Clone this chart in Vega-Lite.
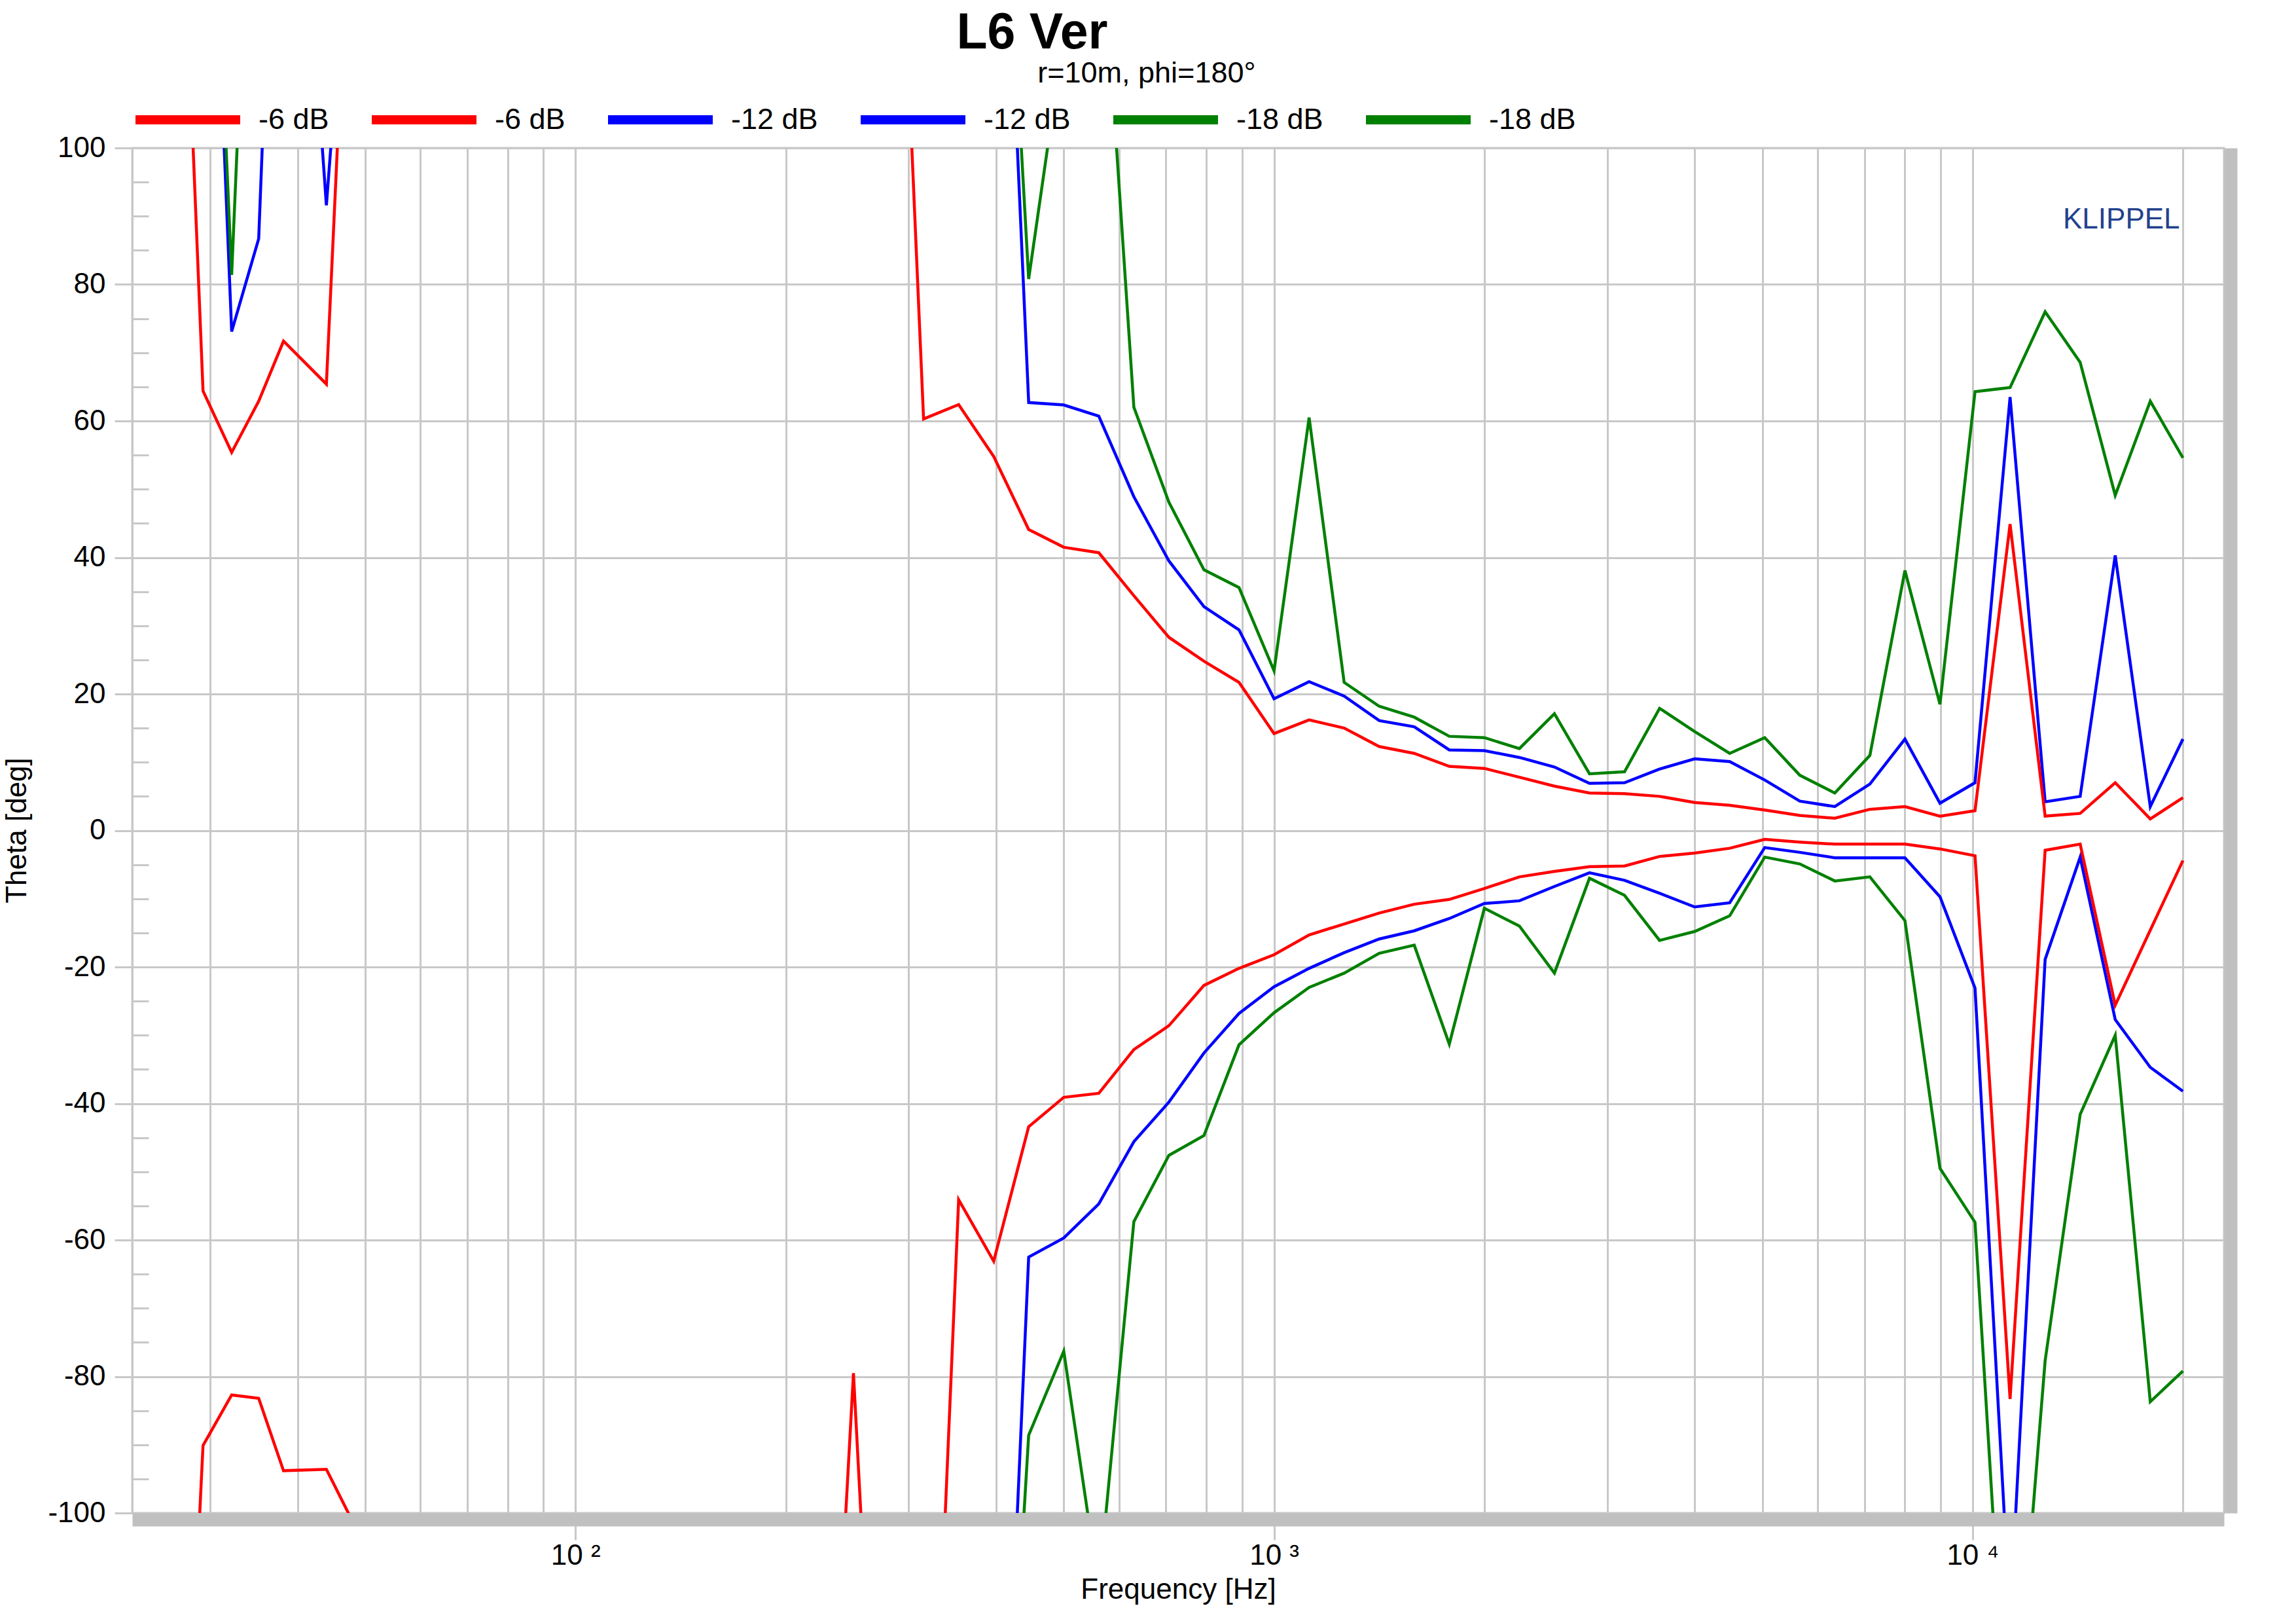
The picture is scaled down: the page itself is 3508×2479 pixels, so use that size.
{
  "$schema": "https://vega.github.io/schema/vega-lite/v6.json",
  "width": 3196,
  "height": 2085,
  "autosize": {"type": "none"},
  "padding": {"left": 202, "top": 226, "right": 110, "bottom": 168},
  "background": "white",
  "config": {
    "font": "Liberation Sans",
    "view": {"stroke": "#c8c8c8", "strokeWidth": 3}
  },
  "datasets": {
    "curves": [
      {"f": 29.3, "t": 176, "c": "-12 dB a"},
      {"f": 32.2, "t": 73.1, "c": "-12 dB a"},
      {"f": 35.2, "t": 86.7, "c": "-12 dB a"},
      {"f": 38.2, "t": 180, "c": "-12 dB a"},
      {"f": 44.0, "t": 91.6, "c": "-12 dB a"},
      {"f": 50.0, "t": 166, "c": "-12 dB a"},
      {"f": 396.9, "t": 178, "c": "-12 dB a"},
      {"f": 445.4, "t": 62.7, "c": "-12 dB a"},
      {"f": 500, "t": 62.35, "c": "-12 dB a"},
      {"f": 561.2, "t": 60.7, "c": "-12 dB a"},
      {"f": 630, "t": 48.9, "c": "-12 dB a"},
      {"f": 707.1, "t": 39.5, "c": "-12 dB a"},
      {"f": 793.7, "t": 32.8, "c": "-12 dB a"},
      {"f": 890.9, "t": 29.4, "c": "-12 dB a"},
      {"f": 1000, "t": 19.3, "c": "-12 dB a"},
      {"f": 1122.5, "t": 21.8, "c": "-12 dB a"},
      {"f": 1259.9, "t": 19.7, "c": "-12 dB a"},
      {"f": 1414.2, "t": 16.1, "c": "-12 dB a"},
      {"f": 1587.4, "t": 15.2, "c": "-12 dB a"},
      {"f": 1781.8, "t": 11.8, "c": "-12 dB a"},
      {"f": 2000, "t": 11.7, "c": "-12 dB a"},
      {"f": 2244.9, "t": 10.7, "c": "-12 dB a"},
      {"f": 2519.8, "t": 9.3, "c": "-12 dB a"},
      {"f": 2828.4, "t": 6.9, "c": "-12 dB a"},
      {"f": 3174.8, "t": 7.0, "c": "-12 dB a"},
      {"f": 3563.6, "t": 9.0, "c": "-12 dB a"},
      {"f": 4000, "t": 10.5, "c": "-12 dB a"},
      {"f": 4489.8, "t": 10.1, "c": "-12 dB a"},
      {"f": 5039.7, "t": 7.4, "c": "-12 dB a"},
      {"f": 5656.9, "t": 4.3, "c": "-12 dB a"},
      {"f": 6349.6, "t": 3.5, "c": "-12 dB a"},
      {"f": 7127, "t": 6.8, "c": "-12 dB a"},
      {"f": 8000, "t": 13.4, "c": "-12 dB a"},
      {"f": 8979.7, "t": 4.0, "c": "-12 dB a"},
      {"f": 10079, "t": 7.0, "c": "-12 dB a"},
      {"f": 11313.7, "t": 63.5, "c": "-12 dB a"},
      {"f": 12699.2, "t": 4.2, "c": "-12 dB a"},
      {"f": 14254.4, "t": 5.0, "c": "-12 dB a"},
      {"f": 16000, "t": 40.3, "c": "-12 dB a"},
      {"f": 17959.4, "t": 3.5, "c": "-12 dB a"},
      {"f": 20000, "t": 13.4, "c": "-12 dB a"},

      {"f": 29.3, "t": -180, "c": "-12 dB b"},
      {"f": 50.0, "t": -180, "c": "-12 dB b"},
      {"f": 396.9, "t": -178, "c": "-12 dB b"},
      {"f": 445.4, "t": -62.5, "c": "-12 dB b"},
      {"f": 500, "t": -59.7, "c": "-12 dB b"},
      {"f": 561.2, "t": -54.7, "c": "-12 dB b"},
      {"f": 630, "t": -45.6, "c": "-12 dB b"},
      {"f": 707.1, "t": -39.8, "c": "-12 dB b"},
      {"f": 793.7, "t": -32.6, "c": "-12 dB b"},
      {"f": 890.9, "t": -26.8, "c": "-12 dB b"},
      {"f": 1000, "t": -22.9, "c": "-12 dB b"},
      {"f": 1122.5, "t": -20.2, "c": "-12 dB b"},
      {"f": 1259.9, "t": -17.9, "c": "-12 dB b"},
      {"f": 1414.2, "t": -15.9, "c": "-12 dB b"},
      {"f": 1587.4, "t": -14.7, "c": "-12 dB b"},
      {"f": 1781.8, "t": -12.9, "c": "-12 dB b"},
      {"f": 2000, "t": -10.7, "c": "-12 dB b"},
      {"f": 2244.9, "t": -10.3, "c": "-12 dB b"},
      {"f": 2519.8, "t": -8.2, "c": "-12 dB b"},
      {"f": 2828.4, "t": -6.2, "c": "-12 dB b"},
      {"f": 3174.8, "t": -7.3, "c": "-12 dB b"},
      {"f": 3563.6, "t": -9.2, "c": "-12 dB b"},
      {"f": 4000, "t": -11.2, "c": "-12 dB b"},
      {"f": 4489.8, "t": -10.6, "c": "-12 dB b"},
      {"f": 5039.7, "t": -2.5, "c": "-12 dB b"},
      {"f": 5656.9, "t": -3.2, "c": "-12 dB b"},
      {"f": 6349.6, "t": -4.0, "c": "-12 dB b"},
      {"f": 7127, "t": -4.0, "c": "-12 dB b"},
      {"f": 8000, "t": -4.0, "c": "-12 dB b"},
      {"f": 8979.7, "t": -9.7, "c": "-12 dB b"},
      {"f": 10079, "t": -23.1, "c": "-12 dB b"},
      {"f": 11313.7, "t": -115.5, "c": "-12 dB b"},
      {"f": 12699.2, "t": -18.9, "c": "-12 dB b"},
      {"f": 14254.4, "t": -3.9, "c": "-12 dB b"},
      {"f": 16000, "t": -27.7, "c": "-12 dB b"},
      {"f": 17959.4, "t": -34.7, "c": "-12 dB b"},
      {"f": 20000, "t": -38.2, "c": "-12 dB b"},

      {"f": 29.3, "t": 177, "c": "-18 dB a"},
      {"f": 32.2, "t": 81.4, "c": "-18 dB a"},
      {"f": 35.2, "t": 174, "c": "-18 dB a"},
      {"f": 396.9, "t": 172, "c": "-18 dB a"},
      {"f": 445.4, "t": 80.8, "c": "-18 dB a"},
      {"f": 500, "t": 116.5, "c": "-18 dB a"},
      {"f": 561.2, "t": 139, "c": "-18 dB a"},
      {"f": 630, "t": 62.0, "c": "-18 dB a"},
      {"f": 707.1, "t": 48.1, "c": "-18 dB a"},
      {"f": 793.7, "t": 38.2, "c": "-18 dB a"},
      {"f": 890.9, "t": 35.6, "c": "-18 dB a"},
      {"f": 1000, "t": 23.4, "c": "-18 dB a"},
      {"f": 1122.5, "t": 60.5, "c": "-18 dB a"},
      {"f": 1259.9, "t": 21.7, "c": "-18 dB a"},
      {"f": 1414.2, "t": 18.2, "c": "-18 dB a"},
      {"f": 1587.4, "t": 16.6, "c": "-18 dB a"},
      {"f": 1781.8, "t": 13.8, "c": "-18 dB a"},
      {"f": 2000, "t": 13.6, "c": "-18 dB a"},
      {"f": 2244.9, "t": 12.0, "c": "-18 dB a"},
      {"f": 2519.8, "t": 17.1, "c": "-18 dB a"},
      {"f": 2828.4, "t": 8.3, "c": "-18 dB a"},
      {"f": 3174.8, "t": 8.6, "c": "-18 dB a"},
      {"f": 3563.6, "t": 17.9, "c": "-18 dB a"},
      {"f": 4000, "t": 14.5, "c": "-18 dB a"},
      {"f": 4489.8, "t": 11.3, "c": "-18 dB a"},
      {"f": 5039.7, "t": 13.6, "c": "-18 dB a"},
      {"f": 5656.9, "t": 8.1, "c": "-18 dB a"},
      {"f": 6349.6, "t": 5.5, "c": "-18 dB a"},
      {"f": 7127, "t": 11.0, "c": "-18 dB a"},
      {"f": 8000, "t": 38.1, "c": "-18 dB a"},
      {"f": 8979.7, "t": 18.5, "c": "-18 dB a"},
      {"f": 10079, "t": 64.3, "c": "-18 dB a"},
      {"f": 11313.7, "t": 64.9, "c": "-18 dB a"},
      {"f": 12699.2, "t": 76.0, "c": "-18 dB a"},
      {"f": 14254.4, "t": 68.6, "c": "-18 dB a"},
      {"f": 16000, "t": 49.1, "c": "-18 dB a"},
      {"f": 17959.4, "t": 62.9, "c": "-18 dB a"},
      {"f": 20000, "t": 54.6, "c": "-18 dB a"},

      {"f": 29.3, "t": -180, "c": "-18 dB b"},
      {"f": 396.9, "t": -174, "c": "-18 dB b"},
      {"f": 445.4, "t": -88.6, "c": "-18 dB b"},
      {"f": 500, "t": -76.3, "c": "-18 dB b"},
      {"f": 561.2, "t": -111, "c": "-18 dB b"},
      {"f": 630, "t": -57.3, "c": "-18 dB b"},
      {"f": 707.1, "t": -47.6, "c": "-18 dB b"},
      {"f": 793.7, "t": -44.7, "c": "-18 dB b"},
      {"f": 890.9, "t": -31.4, "c": "-18 dB b"},
      {"f": 1000, "t": -26.7, "c": "-18 dB b"},
      {"f": 1122.5, "t": -23.0, "c": "-18 dB b"},
      {"f": 1259.9, "t": -20.9, "c": "-18 dB b"},
      {"f": 1414.2, "t": -18.0, "c": "-18 dB b"},
      {"f": 1587.4, "t": -16.8, "c": "-18 dB b"},
      {"f": 1781.8, "t": -31.3, "c": "-18 dB b"},
      {"f": 2000, "t": -11.4, "c": "-18 dB b"},
      {"f": 2244.9, "t": -14.0, "c": "-18 dB b"},
      {"f": 2519.8, "t": -20.9, "c": "-18 dB b"},
      {"f": 2828.4, "t": -7.0, "c": "-18 dB b"},
      {"f": 3174.8, "t": -9.5, "c": "-18 dB b"},
      {"f": 3563.6, "t": -16.1, "c": "-18 dB b"},
      {"f": 4000, "t": -14.8, "c": "-18 dB b"},
      {"f": 4489.8, "t": -12.5, "c": "-18 dB b"},
      {"f": 5039.7, "t": -3.9, "c": "-18 dB b"},
      {"f": 5656.9, "t": -4.9, "c": "-18 dB b"},
      {"f": 6349.6, "t": -7.4, "c": "-18 dB b"},
      {"f": 7127, "t": -6.8, "c": "-18 dB b"},
      {"f": 8000, "t": -13.2, "c": "-18 dB b"},
      {"f": 8979.7, "t": -49.5, "c": "-18 dB b"},
      {"f": 10079, "t": -57.4, "c": "-18 dB b"},
      {"f": 11313.7, "t": -141, "c": "-18 dB b"},
      {"f": 12699.2, "t": -77.7, "c": "-18 dB b"},
      {"f": 14254.4, "t": -41.6, "c": "-18 dB b"},
      {"f": 16000, "t": -30.0, "c": "-18 dB b"},
      {"f": 17959.4, "t": -83.7, "c": "-18 dB b"},
      {"f": 20000, "t": -79.2, "c": "-18 dB b"},

      {"f": 26.4, "t": 178, "c": "-6 dB a"},
      {"f": 29.3, "t": 64.4, "c": "-6 dB a"},
      {"f": 32.2, "t": 55.4, "c": "-6 dB a"},
      {"f": 35.2, "t": 62.9, "c": "-6 dB a"},
      {"f": 38.2, "t": 71.7, "c": "-6 dB a"},
      {"f": 44.0, "t": 65.4, "c": "-6 dB a"},
      {"f": 50.0, "t": 188, "c": "-6 dB a"},
      {"f": 280.6, "t": 179, "c": "-6 dB a"},
      {"f": 315, "t": 60.3, "c": "-6 dB a"},
      {"f": 353.6, "t": 62.4, "c": "-6 dB a"},
      {"f": 396.9, "t": 54.8, "c": "-6 dB a"},
      {"f": 445.4, "t": 44.1, "c": "-6 dB a"},
      {"f": 500, "t": 41.5, "c": "-6 dB a"},
      {"f": 561.2, "t": 40.7, "c": "-6 dB a"},
      {"f": 630, "t": 34.4, "c": "-6 dB a"},
      {"f": 707.1, "t": 28.3, "c": "-6 dB a"},
      {"f": 793.7, "t": 24.8, "c": "-6 dB a"},
      {"f": 890.9, "t": 21.7, "c": "-6 dB a"},
      {"f": 1000, "t": 14.2, "c": "-6 dB a"},
      {"f": 1122.5, "t": 16.2, "c": "-6 dB a"},
      {"f": 1259.9, "t": 15.0, "c": "-6 dB a"},
      {"f": 1414.2, "t": 12.3, "c": "-6 dB a"},
      {"f": 1587.4, "t": 11.3, "c": "-6 dB a"},
      {"f": 1781.8, "t": 9.4, "c": "-6 dB a"},
      {"f": 2000, "t": 9.1, "c": "-6 dB a"},
      {"f": 2244.9, "t": 7.8, "c": "-6 dB a"},
      {"f": 2519.8, "t": 6.5, "c": "-6 dB a"},
      {"f": 2828.4, "t": 5.5, "c": "-6 dB a"},
      {"f": 3174.8, "t": 5.4, "c": "-6 dB a"},
      {"f": 3563.6, "t": 5.0, "c": "-6 dB a"},
      {"f": 4000, "t": 4.1, "c": "-6 dB a"},
      {"f": 4489.8, "t": 3.7, "c": "-6 dB a"},
      {"f": 5039.7, "t": 3.0, "c": "-6 dB a"},
      {"f": 5656.9, "t": 2.2, "c": "-6 dB a"},
      {"f": 6349.6, "t": 1.8, "c": "-6 dB a"},
      {"f": 7127, "t": 3.1, "c": "-6 dB a"},
      {"f": 8000, "t": 3.5, "c": "-6 dB a"},
      {"f": 8979.7, "t": 2.1, "c": "-6 dB a"},
      {"f": 10079, "t": 2.9, "c": "-6 dB a"},
      {"f": 11313.7, "t": 44.9, "c": "-6 dB a"},
      {"f": 12699.2, "t": 2.1, "c": "-6 dB a"},
      {"f": 14254.4, "t": 2.5, "c": "-6 dB a"},
      {"f": 16000, "t": 7.0, "c": "-6 dB a"},
      {"f": 17959.4, "t": 1.7, "c": "-6 dB a"},
      {"f": 20000, "t": 4.8, "c": "-6 dB a"},

      {"f": 26.4, "t": -185, "c": "-6 dB b"},
      {"f": 29.3, "t": -90.1, "c": "-6 dB b"},
      {"f": 32.2, "t": -82.7, "c": "-6 dB b"},
      {"f": 35.2, "t": -83.2, "c": "-6 dB b"},
      {"f": 38.2, "t": -93.8, "c": "-6 dB b"},
      {"f": 44.0, "t": -93.6, "c": "-6 dB b"},
      {"f": 50.0, "t": -104.9, "c": "-6 dB b"},
      {"f": 222.7, "t": -173, "c": "-6 dB b"},
      {"f": 250, "t": -79.5, "c": "-6 dB b"},
      {"f": 280.6, "t": -177, "c": "-6 dB b"},
      {"f": 315, "t": -174.6, "c": "-6 dB b"},
      {"f": 353.6, "t": -54.1, "c": "-6 dB b"},
      {"f": 396.9, "t": -63.1, "c": "-6 dB b"},
      {"f": 445.4, "t": -43.4, "c": "-6 dB b"},
      {"f": 500, "t": -39.1, "c": "-6 dB b"},
      {"f": 561.2, "t": -38.5, "c": "-6 dB b"},
      {"f": 630, "t": -32.1, "c": "-6 dB b"},
      {"f": 707.1, "t": -28.6, "c": "-6 dB b"},
      {"f": 793.7, "t": -22.7, "c": "-6 dB b"},
      {"f": 890.9, "t": -20.2, "c": "-6 dB b"},
      {"f": 1000, "t": -18.2, "c": "-6 dB b"},
      {"f": 1122.5, "t": -15.3, "c": "-6 dB b"},
      {"f": 1259.9, "t": -13.7, "c": "-6 dB b"},
      {"f": 1414.2, "t": -12.1, "c": "-6 dB b"},
      {"f": 1587.4, "t": -10.8, "c": "-6 dB b"},
      {"f": 1781.8, "t": -10.1, "c": "-6 dB b"},
      {"f": 2000, "t": -8.5, "c": "-6 dB b"},
      {"f": 2244.9, "t": -6.8, "c": "-6 dB b"},
      {"f": 2519.8, "t": -6.0, "c": "-6 dB b"},
      {"f": 2828.4, "t": -5.3, "c": "-6 dB b"},
      {"f": 3174.8, "t": -5.2, "c": "-6 dB b"},
      {"f": 3563.6, "t": -3.8, "c": "-6 dB b"},
      {"f": 4000, "t": -3.3, "c": "-6 dB b"},
      {"f": 4489.8, "t": -2.6, "c": "-6 dB b"},
      {"f": 5039.7, "t": -1.3, "c": "-6 dB b"},
      {"f": 5656.9, "t": -1.7, "c": "-6 dB b"},
      {"f": 6349.6, "t": -2.0, "c": "-6 dB b"},
      {"f": 7127, "t": -2.0, "c": "-6 dB b"},
      {"f": 8000, "t": -2.0, "c": "-6 dB b"},
      {"f": 8979.7, "t": -2.7, "c": "-6 dB b"},
      {"f": 10079, "t": -3.7, "c": "-6 dB b"},
      {"f": 11313.7, "t": -83.3, "c": "-6 dB b"},
      {"f": 12699.2, "t": -2.9, "c": "-6 dB b"},
      {"f": 14254.4, "t": -2.0, "c": "-6 dB b"},
      {"f": 16000, "t": -25.6, "c": "-6 dB b"},
      {"f": 17959.4, "t": -14.6, "c": "-6 dB b"},
      {"f": 20000, "t": -4.4, "c": "-6 dB b"}
    ]
  },
  "layer": [
    {
      "data": {"name": "curves"},
      "mark": {"type": "line", "strokeOpacity": 0, "clip": true},
      "encoding": {
        "x": {"field": "f", "type": "quantitative", "scale": {"type": "log", "domain": [23.2, 22900], "nice": false}, "axis": null},
        "y": {"field": "t", "type": "quantitative", "scale": {"domain": [-100, 100], "nice": false, "zero": false},
          "axis": {"orient": "left", "values": [-95,-90,-85,-75,-70,-65,-55,-50,-45,-35,-30,-25,-15,-10,-5,5,10,15,25,30,35,45,50,55,65,70,75,85,90,95],
            "labels": false, "grid": false, "domain": false, "ticks": true, "tickSize": -25, "tickColor": "#c8c8c8", "tickWidth": 3, "title": null}},
        "detail": {"field": "c", "type": "nominal"}
      }
    },
    {
      "data": {"name": "curves"},
      "mark": {"type": "line", "strokeOpacity": 0, "clip": true},
      "encoding": {
        "x": {"field": "f", "type": "quantitative", "scale": {"type": "log", "domain": [23.2, 22900], "nice": false}, "axis": null},
        "y": {"field": "t", "type": "quantitative", "scale": {"domain": [-100, 100], "nice": false, "zero": false},
          "axis": {"orient": "right", "labels": false, "grid": false, "ticks": false, "domain": true, "domainColor": "#c0c0c0", "domainWidth": 20, "offset": 10, "title": null}},
        "detail": {"field": "c", "type": "nominal"}
      }
    },
    {
      "data": {"name": "curves"},
      "mark": {"type": "line", "strokeWidth": 4.5, "clip": true},
      "encoding": {
        "x": {"field": "f", "type": "quantitative", "scale": {"type": "log", "domain": [23.2, 22900], "nice": false},
          "axis": {
            "values": [30,40,50,60,70,80,90,100,200,300,400,500,600,700,800,900,1000,2000,3000,4000,5000,6000,7000,8000,9000,10000,20000],
            "labelExpr": "datum.value == 100 ? '10 ²' : datum.value == 1000 ? '10 ³' : datum.value == 10000 ? '10 ⁴' : ''",
            "grid": true, "gridColor": "#c8c8c8", "gridWidth": 3,
            "ticks": true, "tickColor": "#c8c8c8", "tickWidth": 3, "tickSize": 31,
            "tickOpacity": {"condition": {"test": "datum.value == 100 || datum.value == 1000 || datum.value == 10000", "value": 1}, "value": 0},
            "domain": true, "domainColor": "#c0c0c0", "domainWidth": 20, "offset": 10,
            "labelFont": "Liberation Sans", "labelFontSize": 44, "labelColor": "black", "labelPadding": 2, "labelOverlap": false, "labelFlush": false,
            "title": "Frequency [Hz]", "titleFont": "Liberation Sans", "titleFontSize": 44, "titleFontWeight": "normal", "titleColor": "black", "titlePadding": 8
          }},
        "y": {"field": "t", "type": "quantitative", "scale": {"domain": [-100, 100], "nice": false, "zero": false},
          "axis": {
            "orient": "left",
            "values": [-100,-80,-60,-40,-20,0,20,40,60,80,100],
            "labelExpr": "'' + datum.value",
            "grid": true, "gridColor": "#c8c8c8", "gridWidth": 3,
            "ticks": true, "tickColor": "#c8c8c8", "tickWidth": 3, "tickSize": 27,
            "domain": true, "domainColor": "#c8c8c8", "domainWidth": 3,
            "labelFont": "Liberation Sans", "labelFontSize": 44, "labelColor": "black", "labelPadding": 14, "labelOverlap": false, "labelFlush": false,
            "title": "Theta [deg]", "titleFont": "Liberation Sans", "titleFontSize": 44, "titleFontWeight": "normal", "titleColor": "black",
            "titleX": -176, "titleY": 1042, "titleAngle": -90, "titleAlign": "center", "titleBaseline": "middle"
          }},
        "color": {"field": "c", "type": "nominal",
          "scale": {"domain": ["-6 dB a", "-6 dB b", "-12 dB a", "-12 dB b", "-18 dB a", "-18 dB b"],
                    "range": ["#ff0000", "#ff0000", "#0000ff", "#0000ff", "#008000", "#008000"]},
          "legend": {
            "orient": "none", "legendX": -2, "legendY": -130, "direction": "horizontal", "title": null,
            "symbolType": "stroke", "symbolSize": 25600, "symbolStrokeWidth": 14,
            "labelFont": "Liberation Sans", "labelFontSize": 45, "labelColor": "black",
            "labelOffset": 21, "columnPadding": 37, "padding": 0,
            "labelExpr": "slice(datum.label, 0, -2)"
          }}
      }
    },
    {
      "data": {"values": [{"label": "KLIPPEL"}]},
      "mark": {"type": "text", "align": "right", "baseline": "alphabetic", "fontSize": 44, "font": "Liberation Sans", "color": "#22428c"},
      "encoding": {
        "x": {"datum": 19800, "type": "quantitative", "scale": {"type": "log", "domain": [23.2, 22900], "nice": false}, "axis": null},
        "y": {"datum": 88.2, "type": "quantitative", "scale": {"domain": [-100, 100], "nice": false, "zero": false}, "axis": null},
        "text": {"field": "label"}
      }
    },
    {
      "data": {"values": [{"label": "r=10m, phi=180°"}]},
      "mark": {"type": "text", "align": "center", "baseline": "middle", "fontSize": 45, "font": "Liberation Sans", "color": "black", "clip": false},
      "encoding": {
        "x": {"datum": 657, "type": "quantitative", "scale": {"type": "log", "domain": [23.2, 22900], "nice": false}, "axis": null},
        "y": {"datum": 110.9, "type": "quantitative", "scale": {"domain": [-100, 100], "nice": false, "zero": false}, "axis": null},
        "text": {"field": "label"}
      }
    },
    {
      "data": {"values": [{"label": "L6 Ver"}]},
      "mark": {"type": "text", "align": "center", "baseline": "alphabetic", "fontSize": 77, "fontWeight": "bold", "font": "Liberation Sans", "color": "black", "clip": false},
      "encoding": {
        "x": {"datum": 450.5, "type": "quantitative", "scale": {"type": "log", "domain": [23.2, 22900], "nice": false}, "axis": null},
        "y": {"datum": 114.6, "type": "quantitative", "scale": {"domain": [-100, 100], "nice": false, "zero": false}, "axis": null},
        "text": {"field": "label"}
      }
    }
  ],
  "resolve": {"axis": {"x": "independent", "y": "independent"}}
}
